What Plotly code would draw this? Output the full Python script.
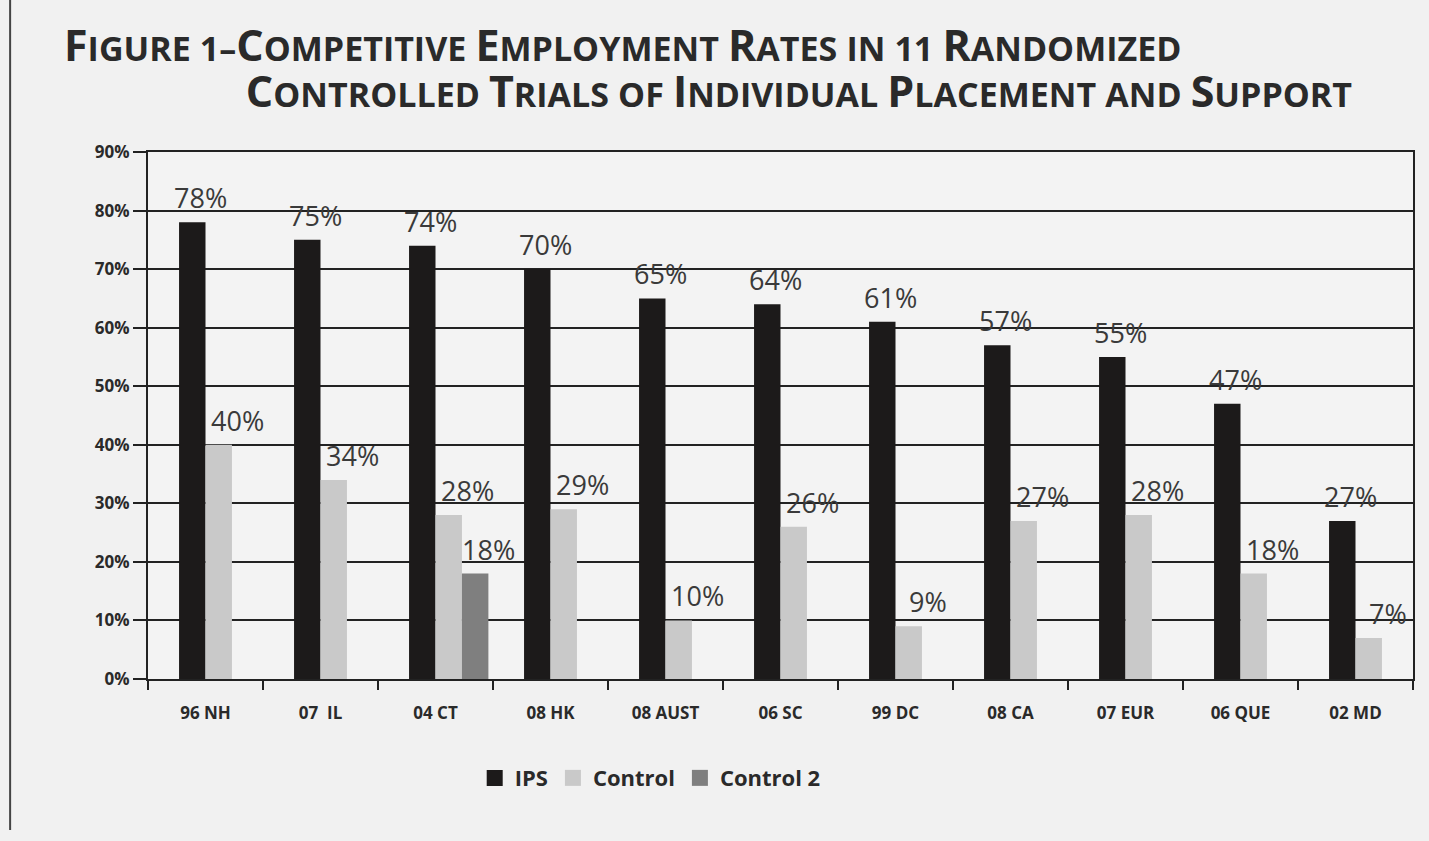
import plotly.graph_objects as go

categories = ["96 NH", "07\u00a0\u00a0IL", "04 CT", "08 HK", "08 AUST", "06 SC",
              "99 DC", "08 CA", "07 EUR", "06 QUE", "02 MD"]
ips = [78, 75, 74, 70, 65, 64, 61, 57, 55, 47, 27]
control = [40, 34, 28, 29, 10, 26, 9, 27, 28, 18, 7]
control2 = [None, None, 18, None, None, None, None, None, None, None, None]

title_line1 = "Figure 1\u2013Competitive Employment Rates in 11 Randomized"
title_line2 = "Controlled Trials of Individual Placement and Support"

BAR_W = 0.23
LABEL_FONT = dict(family="Open Sans, DejaVu Sans, sans-serif", size=27, color="#3a3a3a")
BOLD_FAMILY = "Open Sans, DejaVu Sans, sans-serif"


def smallcaps(text, big=43, small=34):
    out = []
    for ch in text:
        if ch.isupper():
            out.append(f'<span style="font-size:{big}px">{ch}</span>')
        elif ch == " ":
            out.append(" ")
        else:
            out.append(f'<span style="font-size:{small}px">{ch.upper()}</span>')
    return "".join(out)


fig = go.Figure()
series = [("IPS", ips, "#1c1a1a", -BAR_W, -5),
          ("Control", control, "#c9c9c9", 0.0, 32),
          ("Control 2", control2, "#7f7f7f", BAR_W, 53)]
for name, vals, color, off, _ in series:
    fig.add_trace(go.Bar(x=categories, y=vals, name=name, marker_color=color,
                         marker_line_width=0, width=BAR_W, offset=off,
                         showlegend=False, legendgroup=name))
# legend entries with larger square swatches
for name, vals, color, off, _ in series:
    fig.add_trace(go.Scatter(x=[None], y=[None], mode="markers", name=name,
                             legendgroup=name,
                             marker=dict(symbol="square", size=18, color=color)))

annotations = []
for name, vals, color, off, xs in series:
    for c, v in zip(categories, vals):
        if v is None:
            continue
        annotations.append(dict(x=c, y=v, xref="x", yref="y", text=f"{v}%",
                                showarrow=False, yanchor="bottom", xanchor="center",
                                xshift=xs, yshift=4, font=LABEL_FONT))

indent = '<span style="font-size:35px">' + "\u00a0" * 20 + "</span>"
annotations.append(dict(x=-0.068, y=1.16, xref="paper", yref="paper",
                        xanchor="left", yanchor="middle", align="left", showarrow=False,
                        text="<b>" + smallcaps(title_line1) + "<br>" + indent
                             + smallcaps(title_line2) + "</b>",
                        font=dict(family=BOLD_FAMILY, color="#2a2a2a", size=35)))

fig.update_layout(
    width=1429, height=841,
    margin=dict(l=148, r=16, t=152, b=162),
    paper_bgcolor="#f1f1f1", plot_bgcolor="#f3f3f3",
    barmode="overlay",
    showlegend=True,
    legend=dict(orientation="h", x=0.397, xanchor="center", y=-0.188, yanchor="middle",
                font=dict(family=BOLD_FAMILY, size=22, color="#2a2a2a", weight="bold"),
                bgcolor="rgba(0,0,0,0)", itemsizing="trace", tracegroupgap=0),
    annotations=annotations,
    shapes=[dict(type="line", xref="paper", yref="paper", x0=-0.109, x1=-0.109,
                 y0=1.30, y1=-0.2865, line=dict(color="#444", width=2))],
)
fig.update_xaxes(type="category", range=[-0.5, 10.5], showline=True, mirror=True,
                 linecolor="#222", linewidth=2, ticks="outside", tickson="boundaries",
                 ticklen=9, tickwidth=2, tickcolor="#222", showgrid=False,
                 ticklabelstandoff=18,
                 tickfont=dict(family=BOLD_FAMILY, size=17, color="#2a2a2a", weight="bold"))
fig.update_yaxes(range=[0, 90], dtick=10, ticksuffix="%", showline=True, mirror=True,
                 linecolor="#222", linewidth=2, ticks="outside", ticklen=13, tickwidth=2,
                 tickcolor="#222", showgrid=True, gridcolor="#222", gridwidth=1.6,
                 zeroline=False,
                 tickfont=dict(family=BOLD_FAMILY, size=17, color="#2a2a2a", weight="bold"))

fig.write_html("out.html", config={"displayModeBar": False},
               post_script="document.body.style.margin='0px';document.body.style.background='#f1f1f1';")
